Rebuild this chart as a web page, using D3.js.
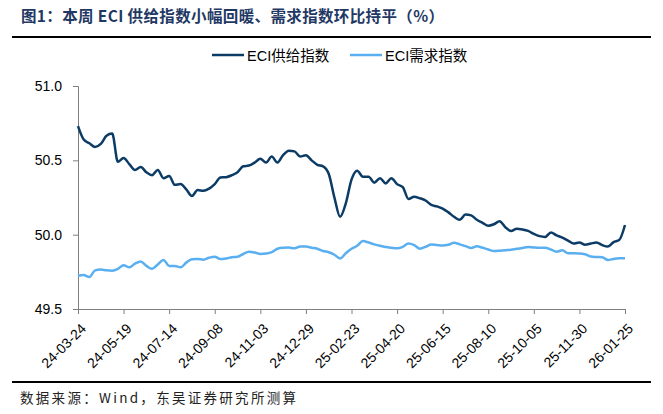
<!DOCTYPE html>
<html lang="zh">
<head>
<meta charset="utf-8">
<title>ECI供给指数与需求指数</title>
<script src="https://cdnjs.cloudflare.com/ajax/libs/d3/7.8.5/d3.min.js"></script>
<style>
    body { margin: 0; background: #fff; }
    .axis text { font-family: "Liberation Sans", Arial, sans-serif; fill: #000; }
    .axis path, .axis line { stroke: #7f7f7f; }
</style>
</head>
<body>
<div id="chart"></div>
<script>
    // weekly readings, 24-03-24 .. 26-01-25
    const supplyIndex = [
        50.73, 50.64, 50.615, 50.59, 50.61, 50.665, 50.68, 50.49, 50.515, 50.475,
        50.435, 50.455, 50.42, 50.40, 50.435, 50.38, 50.395, 50.335, 50.34, 50.305,
        50.26, 50.30, 50.295, 50.31, 50.34, 50.385, 50.387, 50.40, 50.42, 50.46,
        50.465, 50.485, 50.51, 50.485, 50.525, 50.485, 50.535, 50.565, 50.56, 50.525,
        50.535, 50.50, 50.47, 50.46, 50.41, 50.25, 50.12, 50.21, 50.37, 50.43,
        50.39, 50.39, 50.35, 50.38, 50.345, 50.38, 50.34, 50.32, 50.24, 50.255,
        50.245, 50.23, 50.20, 50.19, 50.175, 50.15, 50.12, 50.10, 50.135, 50.13,
        50.10, 50.08, 50.06, 50.07, 50.09, 50.05, 50.025, 50.04, 50.035, 50.025,
        50.005, 49.99, 49.985, 50.015, 49.995, 49.98, 49.96, 49.94, 49.948, 49.932,
        49.94, 49.948, 49.93, 49.92, 49.95, 49.965, 50.065
    ];
    const demandIndex = [
        49.724, 49.728, 49.715, 49.76, 49.765, 49.76, 49.758, 49.77, 49.795, 49.78,
        49.805, 49.82, 49.79, 49.77, 49.80, 49.83, 49.79, 49.79, 49.78, 49.812,
        49.835, 49.836, 49.832, 49.845, 49.852, 49.836, 49.84, 49.848, 49.852, 49.87,
        49.885, 49.88, 49.87, 49.873, 49.882, 49.905, 49.912, 49.913, 49.908, 49.92,
        49.92, 49.912, 49.905, 49.89, 49.882, 49.865, 49.84, 49.875, 49.905, 49.925,
        49.957, 49.947, 49.935, 49.925, 49.917, 49.912, 49.908, 49.918, 49.94, 49.93,
        49.906, 49.918, 49.934, 49.93, 49.927, 49.932, 49.945, 49.935, 49.923, 49.91,
        49.922, 49.912, 49.90, 49.89, 49.892, 49.895, 49.899, 49.905, 49.91, 49.917,
        49.914, 49.912, 49.912, 49.90, 49.885, 49.895, 49.875, 49.875, 49.874, 49.868,
        49.853, 49.85, 49.848, 49.83, 49.837, 49.841, 49.841
    ];
    const xTickLabels = ["24-03-24", "24-05-19", "24-07-14", "24-09-08", "24-11-03", "24-12-29",
        "25-02-23", "25-04-20", "25-06-15", "25-08-10", "25-10-05", "25-11-30", "26-01-25"];
    const yTicks = [49.5, 50.0, 50.5, 51.0];
    const seriesNames = ["ECI供给指数", "ECI需求指数"];

    const fmtDate = d3.utcFormat("%y-%m-%d");
    const startDate = new Date(Date.UTC(2024, 2, 24));
    const weeks = supplyIndex.map((d, i) => fmtDate(d3.utcDay.offset(startDate, 7 * i)));

    const W = 663, H = 414;
    var margin = {top: 86, right: 38, bottom: 105, left: 78},
        width = W - margin.left - margin.right,
        height = H - margin.top - margin.bottom;

    const svg = d3.select("#chart").append("svg")
        .attr("width", W)
        .attr("height", H);

    // title bar
    svg.append("text")
        .attr("x", 21).attr("y", 22)
        .attr("font-family", "'Noto Sans CJK SC', sans-serif")
        .attr("font-weight", "bold")
        .attr("font-size", 15.5)
        .attr("fill", "#1f3864")
        .attr("textLength", 423)
        .attr("lengthAdjust", "spacing")
        .text("图1：本周 ECI 供给指数小幅回暖、需求指数环比持平（%）");
    svg.append("line")
        .attr("x1", 12).attr("x2", 651).attr("y1", 37).attr("y2", 37)
        .attr("stroke", "#000").attr("stroke-width", 2);

    // footer
    svg.append("line")
        .attr("x1", 12).attr("x2", 651).attr("y1", 382).attr("y2", 382)
        .attr("stroke", "#000").attr("stroke-width", 2);
    svg.append("text")
        .attr("x", 20).attr("y", 403)
        .attr("font-family", "'Noto Sans CJK SC', sans-serif")
        .attr("font-size", 13.5)
        .attr("fill", "#222")
        .attr("textLength", 276)
        .attr("lengthAdjust", "spacing")
        .text("数据来源：Wind，东吴证券研究所测算");

    const g = svg.append("g")
        .attr("transform", "translate(" + margin.left + "," + margin.top + ")");

    const x = d3.scalePoint().domain(weeks).range([0, width]);
    const y = d3.scaleLinear().domain([49.5, 51.0]).range([height, 0]);

    // axes
    g.append("g")
        .attr("class", "axis")
        .call(d3.axisLeft(y).tickValues(yTicks).tickFormat(d3.format(".1f")).tickSize(5).tickPadding(11))
        .call(a => a.selectAll("text").attr("font-size", 14));

    const xAxis = g.append("g")
        .attr("class", "axis")
        .attr("transform", "translate(0," + height + ")")
        .call(d3.axisBottom(x).tickValues(xTickLabels).tickSize(5).tickSizeOuter(0));
    xAxis.selectAll("text")
        .attr("font-size", 14)
        .attr("text-anchor", "end")
        .attr("x", 0).attr("y", 0)
        .attr("dy", "0.35em")
        .attr("transform", "translate(5,17) rotate(-45)");

    // lines
    const line = d3.line()
        .x((d, i) => x(weeks[i]))
        .y(d => y(d))
        .curve(d3.curveMonotoneX);

    g.append("path")
        .datum(demandIndex)
        .attr("fill", "none")
        .attr("stroke", "#5aaff0")
        .attr("stroke-width", 2.5)
        .attr("d", line);

    g.append("path")
        .datum(supplyIndex)
        .attr("fill", "none")
        .attr("stroke", "#0c3c66")
        .attr("stroke-width", 2.5)
        .attr("d", line);

    // legend
    const legendColors = ["#0c3c66", "#5aaff0"];
    const legendX = [212, 350];
    const legend = svg.append("g");
    seriesNames.forEach(function (name, i) {
        legend.append("line")
            .attr("x1", legendX[i]).attr("x2", legendX[i] + 32)
            .attr("y1", 55).attr("y2", 55)
            .attr("stroke", legendColors[i]).attr("stroke-width", 2.5);
        legend.append("text")
            .attr("x", legendX[i] + 35).attr("y", 60.5)
            .attr("font-family", "'Liberation Sans', 'Noto Sans CJK SC', sans-serif")
            .attr("font-size", 14.5)
            .attr("fill", "#000")
            .text(name);
    });
</script>
</body>
</html>
